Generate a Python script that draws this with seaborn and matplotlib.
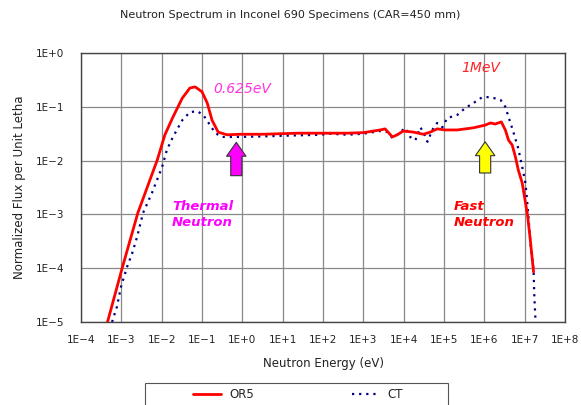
import numpy as np
import pandas as pd
import matplotlib
matplotlib.use("Agg")
import matplotlib.pyplot as plt
import matplotlib.patches as mpatches
import seaborn as sns
from matplotlib.ticker import LogLocator, FixedLocator, NullFormatter

# Data (log10 energy, log10 flux)
or5_logE = [-3.35, -2.98, -2.59, -2.11, -1.92, -1.72, -1.49, -1.30, -1.17, -1.00, -0.87,
            -0.75, -0.60, -0.38, -0.05, 0.50, 0.94, 1.40, 1.93, 2.18, 2.60, 3.00, 3.42,
            3.54, 3.72, 3.84, 3.99, 4.24, 4.49, 4.66, 4.83, 5.03, 5.33, 5.73, 6.02,
            6.15, 6.27, 6.42, 6.52, 6.60, 6.69, 6.77, 6.84, 6.94, 7.07, 7.14, 7.22]
or5_logF = [-5.02, -4.0, -2.97, -1.99, -1.52, -1.19, -0.84, -0.65, -0.63, -0.72, -0.93,
            -1.25, -1.47, -1.52, -1.51, -1.51, -1.50, -1.49, -1.49, -1.49, -1.49, -1.48, -1.43,
            -1.41, -1.56, -1.52, -1.45, -1.47, -1.51, -1.47, -1.41, -1.43, -1.43, -1.39, -1.34,
            -1.30, -1.32, -1.28, -1.43, -1.62, -1.71, -1.93, -2.17, -2.42, -3.01, -3.48, -4.07]

ct_logE = [-3.23, -3.11, -3.01, -2.86, -2.73, -2.61, -2.46, -2.24, -1.99, -1.87, -1.72,
           -1.49, -1.30, -1.12, -0.97, -0.80, -0.67, -0.50, -0.13, 0.50, 0.94, 1.40, 1.93,
           2.18, 2.60, 3.00, 3.42, 3.60, 3.72, 3.84, 4.04, 4.16, 4.29, 4.41, 4.49, 4.59,
           4.71, 4.83, 4.96, 5.08, 5.33, 5.53, 5.73, 5.95, 6.15, 6.40, 6.52, 6.60, 6.72,
           6.84, 6.94, 7.02, 7.09, 7.14, 7.22, 7.24, 7.27]
ct_logF = [-5.0, -4.72, -4.35, -3.98, -3.72, -3.42, -2.97, -2.60, -2.12, -1.80, -1.56,
           -1.25, -1.10, -1.08, -1.15, -1.34, -1.49, -1.56, -1.56, -1.55, -1.54, -1.53, -1.52,
           -1.50, -1.52, -1.50, -1.45, -1.47, -1.58, -1.52, -1.39, -1.56, -1.62, -1.38, -1.47, -1.65,
           -1.43, -1.30, -1.38, -1.21, -1.15, -1.02, -0.93, -0.82, -0.82, -0.87, -1.00, -1.19, -1.47,
           -1.77, -2.12, -2.42, -3.00, -3.53, -4.03, -4.54, -5.0]

x_ticks = [10.0 ** p for p in range(-4, 9)]
x_labels = ["1E\u22124", "1E\u22123", "1E\u22122", "1E\u22121", "1E+0", "1E+1", "1E+2", "1E+3",
            "1E+4", "1E+5", "1E+6", "1E+7", "1E+8"]
y_ticks = [10.0 ** p for p in range(-5, 1)]
y_labels = ["1E\u22125", "1E\u22124", "1E\u22123", "1E\u22122", "1E\u22121", "1E+0"]

df = pd.concat([
    pd.DataFrame({"E": 10.0 ** np.array(or5_logE), "flux": 10.0 ** np.array(or5_logF), "case": "OR5"}),
    pd.DataFrame({"E": 10.0 ** np.array(ct_logE), "flux": 10.0 ** np.array(ct_logF), "case": "CT"}),
])

sns.set_style("white")
plt.rcParams["font.family"] = ["DejaVu Sans"]

fig = plt.figure(figsize=(5.81, 4.05), dpi=100)
ax = fig.add_axes([0.1394, 0.2049, 0.8331, 0.6642])

sns.lineplot(data=df, x="E", y="flux", hue="case", style="case",
             palette={"OR5": "#ff0000", "CT": "#000080"},
             dashes={"OR5": "", "CT": (1, 2.2)}, sort=False, ax=ax, legend=False)
for ln in ax.get_lines():
    if ln.get_color() == "#ff0000":
        ln.set_linewidth(2.0)
        ln.set_zorder(3)
    else:
        ln.set_linewidth(1.6)
        ln.set_zorder(2)

ax.set_xscale("log")
ax.set_yscale("log")
ax.set_xlim(1e-4, 1e8)
ax.set_ylim(1e-5, 1e0)
ax.xaxis.set_major_locator(FixedLocator(x_ticks))
ax.set_xticklabels(x_labels)
ax.yaxis.set_major_locator(FixedLocator(y_ticks))
ax.set_yticklabels(y_labels)
ax.xaxis.set_minor_locator(LogLocator(base=10, subs=np.arange(2, 10), numticks=100))
ax.xaxis.set_minor_formatter(NullFormatter())
ax.yaxis.set_minor_locator(FixedLocator([]))
ax.tick_params(axis="x", which="minor", direction="in", length=3, width=0.6, color="#333333")
ax.tick_params(axis="x", which="major", length=0, labelsize=7.5, pad=9, labelcolor="#222222")
ax.tick_params(axis="y", which="major", length=0, labelsize=7.5, pad=12, labelcolor="#222222")
ax.grid(True, which="major", color="#888888", linewidth=0.9)
for s in ax.spines.values():
    s.set_color("#444444")
    s.set_linewidth(1.0)

ax.set_xlabel("Neutron Energy (eV)", fontsize=8.5, color="#222222", labelpad=9)
ax.set_ylabel("Normalized Flux per Unit Letha", fontsize=8.5, color="#222222", labelpad=7)
fig.text(0.5, 0.962, "Neutron Spectrum in Inconel 690 Specimens (CAR=450 mm)",
         ha="center", va="center", fontsize=8, color="#222222")

# annotations
ax.text(10 ** 0.0, 10 ** -0.67, "0.625eV", color="#ff33dd", fontsize=10, style="italic",
        ha="center", va="center")
ax.text(10 ** 5.9, 10 ** -0.28, "1MeV", color="#ff2222", fontsize=10, style="italic",
        ha="center", va="center")
ax.text(10 ** -1.74, 10 ** -3.0, "Thermal\nNeutron", color="#ff00ff", fontsize=9.5,
        style="italic", weight="bold", ha="left", va="center", linespacing=1.25)
ax.text(10 ** 5.23, 10 ** -3.0, "Fast\nNeutron", color="#ff0000", fontsize=9.5,
        style="italic", weight="bold", ha="left", va="center", linespacing=1.25)

arrow_style = "simple,head_width=1.4,head_length=1.0,tail_width=0.8"
ax.annotate("", xy=(10 ** -0.15, 10 ** -1.66), xytext=(10 ** -0.15, 10 ** -2.28),
            arrowprops=dict(arrowstyle=arrow_style, fc="#ff00ff", ec="#333333",
                            lw=0.8, mutation_scale=10, shrinkA=0, shrinkB=0))
ax.annotate("", xy=(10 ** 6.02, 10 ** -1.65), xytext=(10 ** 6.02, 10 ** -2.23),
            arrowprops=dict(arrowstyle=arrow_style, fc="#ffff00", ec="#333333",
                            lw=0.8, mutation_scale=10, shrinkA=0, shrinkB=0))

# legend box below, cut off by the figure edge like the original
box = mpatches.Rectangle((0.2496, -0.03), 0.5215, 0.0843, transform=fig.transFigure,
                         facecolor="white", edgecolor="#555555", linewidth=0.8, clip_on=False)
fig.patches.append(box)
handles = [plt.Line2D([], [], color="#ff0000", lw=2.0),
           plt.Line2D([], [], color="#000080", lw=1.6, linestyle=(0, (1, 2.2)))]
fig.legend(handles, ["OR5", "CT"], loc="center left",
           bbox_to_anchor=(0.333, 0.025), bbox_transform=fig.transFigure,
           ncol=2, fontsize=8.5, frameon=False, borderpad=0, borderaxespad=0,
           handlelength=2.3, handletextpad=0.7, columnspacing=8.3)

fig.savefig("out.png", dpi=100)
